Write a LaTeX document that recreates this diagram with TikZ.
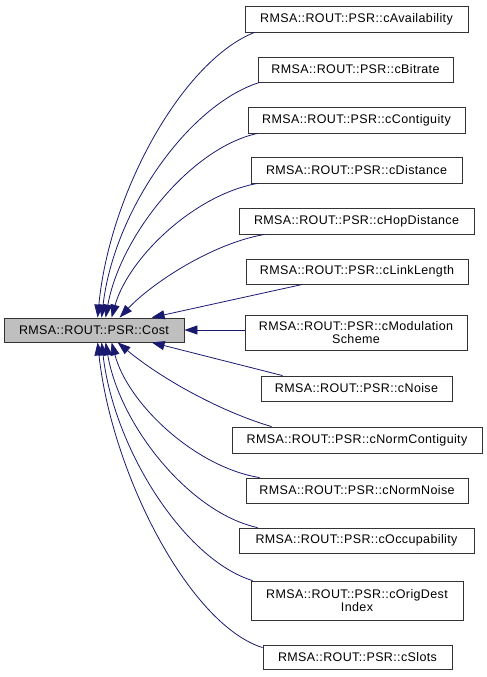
\documentclass[tikz,border=0pt]{standalone}
\usepackage{fontspec}
\setmainfont{Liberation Sans}
\newfontfamily\boxfont[LetterSpace=3]{Liberation Sans}
\usetikzlibrary{arrows.meta,calc}
\definecolor{edgeblue}{HTML}{191970}
\definecolor{costgray}{HTML}{BFBFBF}
\tikzset{
  box/.style={draw=black!80, line width=0.8pt, fill=white, inner sep=0pt, align=center,
    font=\boxfont\fontsize{12.5}{12.5}\selectfont},
  edge/.style={draw=edgeblue, line width=0.8pt,
    arrows={Triangle[length=13pt,width=9pt,fill=edgeblue]-}}
}
\begin{document}
\begin{tikzpicture}[x=1pt,y=-1pt]
\useasboundingbox (0,0) rectangle (487,677);
\node[box, fill=costgray, minimum width=180pt, minimum height=24pt] (cost) at (94,330) {RMSA::ROUT::PSR::Cost};
\node[box, minimum width=223pt, minimum height=26pt] (avail) at (356.5,19) {RMSA::ROUT::PSR::cAvailability};
\node[box, minimum width=195pt, minimum height=25pt] (bitrate) at (355.5,69.5) {RMSA::ROUT::PSR::cBitrate};
\node[box, minimum width=217pt, minimum height=26pt] (contig) at (356.5,120) {RMSA::ROUT::PSR::cContiguity};
\node[box, minimum width=211pt, minimum height=26pt] (dist) at (356.5,170) {RMSA::ROUT::PSR::cDistance};
\node[box, minimum width=235pt, minimum height=26pt] (hop) at (356.5,221) {RMSA::ROUT::PSR::cHopDistance};
\node[box, minimum width=222pt, minimum height=25pt] (link) at (357,271.5) {RMSA::ROUT::PSR::cLinkLength};
\node[box, minimum width=222pt, minimum height=35pt] (mod) at (356,332.5) {RMSA::ROUT::PSR::cModulation\\Scheme};
\node[box, minimum width=191pt, minimum height=25pt] (noise) at (356.5,388.5) {RMSA::ROUT::PSR::cNoise};
\node[box, minimum width=250pt, minimum height=26pt] (normcontig) at (357,440) {RMSA::ROUT::PSR::cNormContiguity};
\node[box, minimum width=222pt, minimum height=25pt] (normnoise) at (357,490.5) {RMSA::ROUT::PSR::cNormNoise};
\node[box, minimum width=235pt, minimum height=25pt] (occup) at (356.5,540.5) {RMSA::ROUT::PSR::cOccupability};
\node[box, minimum width=212pt, minimum height=39pt] (origdest) at (357,600.5) {RMSA::ROUT::PSR::cOrigDest\\Index};
\node[box, minimum width=189pt, minimum height=24pt] (slots) at (357.5,657) {RMSA::ROUT::PSR::cSlots};

\draw[edge] ($(cost.north west)+(94,0)$) .. controls (110,190) and (184,60) .. ($(avail.south west)+(10,0)$);
\draw[edge] ($(cost.north west)+(98,0)$) .. controls (114,211) and (188,105) .. ($(bitrate.south west)+(2,0)$);
\draw[edge] ($(cost.north west)+(102,0)$) .. controls (120,237) and (190,148) .. ($(contig.south west)+(10,0)$);
\draw[edge] ($(cost.north west)+(108,0)$) .. controls (128,259) and (193,195) .. ($(dist.south west)+(7,0)$);
\draw[edge] ($(cost.north west)+(116,0)$) .. controls (150,285) and (210,244) .. ($(hop.south west)+(26,0)$);
\draw[edge] ($(cost.north west)+(148,0)$) -- ($(link.south west)+(57,0)$);
\draw[edge] (cost.east) -- (cost.east -| mod.west);
\draw[edge] ($(cost.south west)+(148,0)$) -- ($(noise.north west)+(22,0)$);
\draw[edge] ($(cost.south west)+(114,0)$) .. controls (163,380) and (222,412) .. ($(normcontig.north west)+(40,0)$);
\draw[edge] ($(cost.south west)+(108,0)$) .. controls (128,404) and (195,467) .. ($(normnoise.north west)+(14,0)$);
\draw[edge] ($(cost.south west)+(102,0)$) .. controls (120,426) and (190,513) .. ($(occup.north west)+(19,0)$);
\draw[edge] ($(cost.south west)+(98,0)$) .. controls (114,450) and (185,560) .. ($(origdest.north west)+(2,0)$);
\draw[edge] ($(cost.south west)+(94,0)$) .. controls (112,475) and (190,625) .. ($(slots.north west)+(0,3)$);
\end{tikzpicture}
\end{document}
